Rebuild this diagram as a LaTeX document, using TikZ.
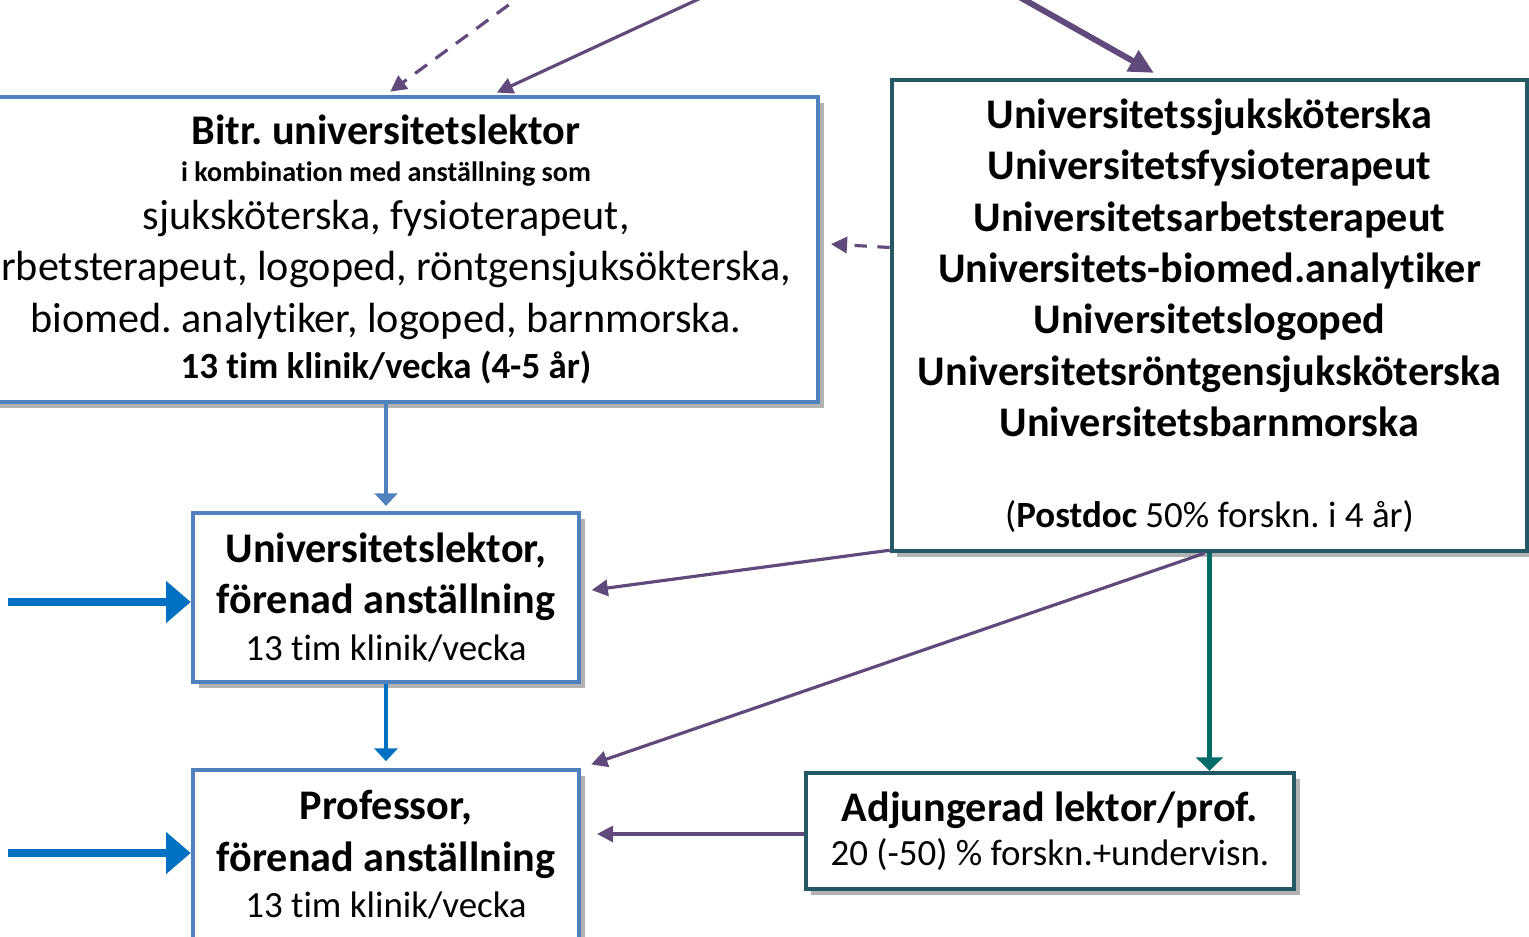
\documentclass[tikz,border=0pt]{standalone}
\usepackage{fontspec}
\setmainfont[Ligatures=NoCommon]{Carlito}
\frenchspacing
\usetikzlibrary{arrows.meta,calc,shadows}

\definecolor{boxblue}{RGB}{79,129,189}
\definecolor{boxteal}{RGB}{35,88,100}
\definecolor{arrpurple}{RGB}{96,74,123}
\definecolor{arrblue}{RGB}{0,112,192}
\definecolor{arrteal}{RGB}{0,108,104}

\begin{document}
\begin{tikzpicture}[x=0.01cm, y=-0.01cm,
    box/.style={draw=boxblue, line width=1.2pt, fill=white, align=center, inner sep=0pt,
        font=\fontsize{12}{14.6}\selectfont,
        drop shadow={shadow xshift=1.6pt, shadow yshift=-1.6pt, opacity=0.3, fill=black}},
    tealbox/.style={box, draw=boxteal},
    link/.style={arrpurple, line width=0.9pt, -{Triangle[length=4.6pt, width=4.6pt]}}]
    \useasboundingbox (0,0) rectangle (1529,937);
    \clip (0,0) rectangle (1529,937);

    % --- boxes ---
    \node[box, minimum width=8.64cm, minimum height=3.05cm] (bitr) at (386,249.5) {%
        \textbf{Bitr. universitetslektor}\\[-4pt]
        {\fontsize{8}{10}\selectfont\bfseries i kombination med anställning som}\\[-1.1pt]
        sjuksköterska, fysioterapeut,\\
        arbetsterapeut, logoped, röntgensjuksökterska,\\
        biomed. analytiker, logoped, barnmorska.\\[-1.4pt]
        {\fontsize{10.5}{13}\selectfont\bfseries 13 tim klinik/vecka (4-5 år)}};
    \node[tealbox, minimum width=6.35cm, minimum height=4.71cm] (univ) at (1209.5,315.5) {%
        \textbf{Universitetssjuksköterska}\\
        \textbf{Universitetsfysioterapeut}\\
        \textbf{Universitetsarbetsterapeut}\\
        \textbf{Universitets-biomed.analytiker}\\
        \textbf{Universitetslogoped}\\
        \textbf{Universitetsröntgensjuksköterska}\\
        \textbf{Universitetsbarnmorska}\\[11.2pt]
        {\fontsize{10.5}{13}\selectfont(\textbf{Postdoc} 50\% forskn. i 4 år)}};
    \node[box, minimum width=3.86cm, minimum height=1.69cm] (lektor) at (386,597.5) {%
        \textbf{Universitetslektor,}\\
        \textbf{förenad anställning}\\[-1.4pt]
        {\fontsize{10.5}{13}\selectfont 13 tim klinik/vecka}};
    \node[box, minimum width=3.86cm, minimum height=1.70cm] (prof) at (386,855) {%
        \textbf{Professor,}\\
        \textbf{förenad anställning}\\[-1.4pt]
        {\fontsize{10.5}{13}\selectfont 13 tim klinik/vecka}};
    \node[tealbox, minimum width=4.88cm, minimum height=1.16cm] (adj) at (1050,831) {%
        \textbf{Adjungerad lektor/prof.}\\[-2pt]
        {\fontsize{10.5}{13}\selectfont 20 (-50) \% forskn.+undervisn.}};

    % --- arrows coming in from outside ---
    \coordinate (srcdash) at (570,-40); \coordinate (srcsolid) at (783,-40);
    \coordinate (srcthick) at (954,-40);
    \coordinate (inlektor) at (8,602); \coordinate (inprof) at (8,853);

    \draw[link, dash pattern=on 4.2pt off 3pt, shorten >=1.5pt] (srcdash) -- (bitr.north);
    \draw[link, shorten >=1.5pt] (srcsolid) -- ($(bitr.north)+(106,0)$);
    \draw[link, line width=1.7pt, -{Triangle[length=7pt, width=6.5pt]}, shorten >=2.8pt] (srcthick) -- ($(univ.north)+(-47,0)$);
    \draw[arrblue, line width=2.5pt, -{Triangle[length=7pt, width=11.5pt]}] (inlektor) -- (inlektor -| lektor.west);
    \draw[arrblue, line width=2.5pt, -{Triangle[length=7pt, width=11.5pt]}] (inprof) -- (inprof -| prof.west);

    % --- arrows between boxes ---
    \draw[link, dash pattern=on 3.5pt off 3pt, shorten >=3pt] ($(univ.west)+(0,-68)$) -- ($(bitr.east)+(0,-6)$);
    \draw[boxblue, line width=1.1pt, -{Triangle[length=3.6pt, width=6.5pt]}, shorten >=1.4pt] (bitr.south) -- (lektor.north);
    \draw[arrblue, line width=1.1pt, -{Triangle[length=3.6pt, width=6.5pt]}, shorten >=1.9pt] (lektor.south) -- (prof.north);
    \draw[link, shorten >=3pt] ($(univ.south west)+(0,-3)$) -- ($(lektor.east)+(0,-6)$);
    \draw[link, shorten >=3pt] ($(univ.south)+(-5,0)$) -- (prof.north east);
    \draw[arrteal, line width=1.2pt, -{Triangle[length=3.8pt, width=7.5pt]}] (univ.south) -- (univ.south |- adj.north);
    \draw[link, shorten >=4.5pt] ($(adj.west)+(0,3)$) -- ($(adj.west -| prof.east)+(0,3)$);
\end{tikzpicture}
\end{document}
